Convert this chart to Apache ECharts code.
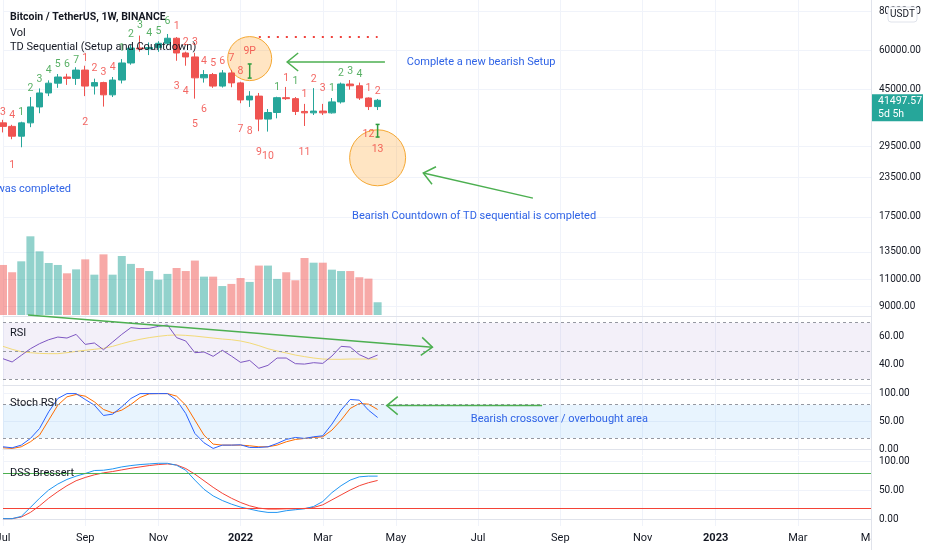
<!DOCTYPE html>
<html>
<head>
<meta charset="utf-8">
<script src="https://cdn.jsdelivr.net/npm/echarts@6.0.0/dist/echarts.min.js"></script>
<style>
  html, body { margin: 0; background: #fff; }
  #chart { width: 932px; height: 550px; }
</style>
</head>
<body>
<div id="chart"></div>
<script>
"use strict";

/* BTCUSDT weekly, Jul 2021 - Apr 2022, with Vol / RSI / Stoch RSI / DSS panes.
   Values. */

const FONT = "Roboto, 'Noto Sans', sans-serif";
const INK = "#131722";
const UP = "#26a69a", DOWN = "#ef5350";
const GREEN = "#4caf50", BLUE_TXT = "#2f63e6";
const TD_GREEN = "#2e9c3e", TD_RED = "#f0413c";
const GRID_LINE = "#f0f3fa";

// weekly categories: Jul 5 2021 onwards, the axis runs on into 2023
const FIRST_WEEK = Date.UTC(2021, 6, 5);
const WEEK_COUNT = 96;
const weeks = Array.from({ length: WEEK_COUNT },
  (_, i) => new Date(FIRST_WEEK + i * 7 * 864e5).toISOString().slice(0, 10));
const MONTHS = ["Jan","Feb","Mar","Apr","May","Jun","Jul","Aug","Sep","Oct","Nov","Dec"];

// candles (USDT)
const opens  = [35100,34200,31800,35100,39500,43800,47100,49300,48800,51900,46100,47300,43200,48200,
                54700,61100,60700,61300,63300,65700,58900,57200,49000,50200,46100,50800,47200,41600,
                42800,36100,37900,42300,42000,38200,37800,38300,37800,41000,46800,46200,42200,39600];
const closes = [34200,31800,35100,39500,43800,47100,49300,48800,51900,46100,47300,43200,48200,54700,
                61100,60700,61300,63300,65700,58900,57200,49000,50200,46100,50800,47200,41600,42800,
                36100,37900,42300,42000,38200,37800,38300,37800,41000,46800,46200,42200,39600,41497.57];
const lows   = [32700,31100,29300,34000,37700,42800,45500,46500,46500,42800,43300,39600,42500,47000,
                54000,59500,58000,59400,62300,55600,53600,42000,47300,45500,45600,45700,40600,39500,
                33000,32900,36300,41600,37200,34300,37200,37200,37600,40500,44900,41600,38600,38600];
const highs  = [35900,34600,35400,42500,45300,48100,50400,50500,53000,53600,48700,47600,49300,56300,
                62500,67000,63700,64300,67800,66300,59500,59000,51900,50800,51900,52000,47600,44400,
                43800,38900,42600,45800,42500,40400,45400,40400,42200,47300,48200,47300,42400,41900];
// volume, thousand BTC
const volume = [330,282,354,519,420,343,330,275,301,367,266,400,266,389,337,310,290,233,271,310,290,
                359,253,253,191,205,244,218,326,326,238,282,229,376,345,345,299,290,290,249,240,84];

// TD Sequential counts: [week index, text, price level]
const tdGreen = [[2,"1",37800],[3,"2",45400],[4,"3",48600],[5,"4",51900],[6,"5",54300],[7,"6",54300],
                 [8,"7",55900],[13,"1",61100],[14,"2",67800],[15,"3",72500],[16,"4",68300],[17,"5",69300],
                 [18,"6",74700],[30,"1",45800],[32,"1",47900],[36,"1",45400],[37,"2",50800],
                 [38,"3",51500],[39,"4",50400]];
const tdRed = [[0,"3",37800],[1,"4",37000],[9,"1",56600],[10,"2",52600],[11,"3",51000],[12,"4",52800],
               [19,"1",71900],[20,"2",63500],[21,"3",63500],[22,"4",55400],[23,"5",54600],[24,"6",55500],
               [25,"7",56600],[26,"8",51300],[27,"9P",59500],[31,"1",48900],[33,"1",43200],[34,"2",48600],
               [35,"3",45400],[40,"1",45400],[41,"2",44400],
               [1,"1",25700],[9,"2",35300],[19,"3",46100],[20,"4",44400],[21,"5",34800],[22,"6",38900],
               [26,"7",33500],[27,"8",32900],[28,"9",28300],[29,"10",27400],[33,"11",28300],
               [40,"12",32200],[41,"13",28900]];
const TDST_LEVEL = 66600;

// oscillators
const rsi   = [44.4,42.1,46.8,51.5,55.1,57.9,59.8,59.1,61.7,54.6,55.6,50.8,56.3,61.7,66.5,65.8,66.0,
               67.4,68.4,59.4,57.0,48.7,49.2,46.1,50.4,46.3,41.8,43.2,37.6,39.7,44.9,44.9,40.9,40.6,
               41.6,41.1,46.3,53.2,52.7,47.3,44.4,47.0];
const rsiMa = [53.2,51.1,49.4,48.7,48.2,48.0,48.0,48.7,49.6,50.4,51.1,51.8,53.2,55.1,56.8,58.2,59.4,
               60.3,61.0,61.3,61.0,60.5,59.8,59.1,58.4,57.9,57.0,55.6,53.7,51.5,49.9,48.5,47.0,45.9,
               44.9,44.2,44.0,44.0,44.2,44.2,44.2,44.2];
const stochK = [4.2,2.4,7.2,19.2,37.2,67.2,91.2,100,100,89.4,79.2,60.6,63,76.2,91.2,100,100,100,100,
                88.2,64.2,28.2,11.4,1.2,7.2,7.2,7.8,3,3,4.2,10.2,17.4,21,19.2,22.2,24,45,70.2,89.4,
                88.2,70.2,57];
const stochD = [2.4,1.2,4.2,13.2,25.2,52.2,79.2,94.2,98.4,95.4,85.2,71.4,65.4,70.2,80.4,93,99.6,100,
                100,95.4,79.2,52.2,25.2,9,7.2,7.2,7.2,6,4.2,4.2,7.2,13.2,17.4,19.2,21,22.2,34.2,52.2,
                73.2,82.2,81,71.4];
const dss    = [1.7,1.7,5.6,20.9,36.7,50.8,61,68.9,74.6,79.1,84.2,84.7,87,90.4,92.7,94.4,95.5,96.6,
                96.6,93.2,84.7,67.8,52,40.7,32.8,26.6,21.5,18.1,14.7,12.4,12.4,15.3,17,18.6,22.6,31.1,
                46.3,58.2,67.8,73.4,74.6,74.6];
const dssSig = [1.7,1.7,4.5,12.4,23.7,36.7,48,58.2,66.7,72.3,76.8,80.2,82.5,85.3,88.1,90.4,92.7,94.4,
                95.5,93.8,87.6,78,66.7,55.4,45.2,36.7,29.4,23.7,19.8,18.1,18.1,18.6,18.6,19.2,20.9,
                25.4,33.9,42.4,50.8,58.2,63.3,67.2];

// tick labels
const priceTicks = [9000, 11000, 13500, 17500, 23500, 29500, 45000, 60000, 80000];
const rsiTicks = [40, 60];
const oscTicks = [0, 50, 100];

/* ---------- layout ---------- */
const L = 3, R = 61;
const panes = [
  { top: 0,   height: 316 },   // price
  { top: 221, height: 94 },    // volume overlay
  { top: 317, height: 68 },    // RSI
  { top: 386, height: 69 },    // Stoch RSI
  { top: 456, height: 70 },    // DSS
];

const monthOf = s => +s.slice(5, 7) - 1;
const isMonthTick = i => {
  const m = monthOf(weeks[i]);
  return m % 2 === 0 && (i === 0 || m !== monthOf(weeks[i - 1]));
};
const monthTicks = weeks.map((_, i) => i).filter(isMonthTick);

// vertical gridlines at the labelled months, drawn as markLines so they sit on the label ticks
const monthLines = () => ({
  silent: true, symbol: "none", label: { show: false }, z: 0,
  lineStyle: { color: GRID_LINE, type: "solid", width: 1 },
  data: monthTicks.map(i => ({ xAxis: i })),
});

const xAxisFor = (g, labels) => ({
  type: "category", gridIndex: g, data: weeks, boundaryGap: false,
  show: g !== 1,
  axisLine: { show: true, lineStyle: { color: "#e0e3eb" } },
  axisTick: { show: false },
  axisLabel: labels ? {
    interval: 0, margin: 7, fontSize: 11, color: INK, fontFamily: FONT, hideOverlap: false,
    formatter: (v, i) => !isMonthTick(i) ? "" :
      monthOf(v) === 0 ? `{yr|${v.slice(0, 4)}}` : MONTHS[monthOf(v)],
    rich: { yr: { fontWeight: "bold", fontSize: 11, color: INK, fontFamily: FONT } },
  } : { show: false },
  splitLine: { show: false },
});

const yAxisFor = (g, min, max, ticks, extra) => Object.assign({
  type: "value", gridIndex: g, position: "right", min, max,
  axisLine: { show: true, lineStyle: { color: "#e0e3eb" } },
  axisTick: { show: false, customValues: ticks },
  axisLabel: { customValues: ticks, margin: 8, fontSize: 10, color: INK, fontFamily: FONT,
               formatter: v => Number(v).toFixed(2) },
  splitLine: { show: true, lineStyle: { color: GRID_LINE } },
}, extra || {});

const lineSeries = (g, data, color, extra) => Object.assign({
  type: "line", xAxisIndex: g, yAxisIndex: g, data, symbol: "none", silent: true,
  lineStyle: { color, width: 1 }, itemStyle: { color },
}, extra || {});

const dashed = v => ({ yAxis: v, lineStyle: { color: "#9598a1", type: [3, 3], width: 1 } });

const tdSeries = (rows, color) => ({
  type: "scatter", xAxisIndex: 0, yAxisIndex: 0, symbolSize: 1, silent: true, z: 6,
  itemStyle: { color: "rgba(0,0,0,0)" },
  data: rows.map(([i, t, p]) => ({ value: [i, p], name: t })),
  label: { show: true, position: "inside", formatter: "{b}", color, fontSize: 10.5, fontFamily: FONT },
});

// an empty carrier series per pane for the month gridlines, kept underneath everything
const gridCarrier = g => ({
  type: "line", xAxisIndex: g, yAxisIndex: g, data: [], silent: true, z: 0,
  markLine: monthLines(),
});

const option = {
  animation: false,
  backgroundColor: "#fff",
  textStyle: { fontFamily: FONT },
  title: [
    { text: "Bitcoin / TetherUS, 1W, BINANCE", left: 5, top: 7,
      textStyle: { fontSize: 10.5, fontWeight: "bold", color: INK, fontFamily: FONT } },
    ["Vol", 23], ["TD Sequential (Setup and Countdown)", 37],
    ["RSI", 323], ["Stoch RSI", 393], ["DSS Bressert", 463],
  ].map(t => Array.isArray(t) ? { text: t[0], left: 5, top: t[1],
      textStyle: { fontSize: 11, fontWeight: "normal", color: INK, fontFamily: FONT } } : t),
  grid: panes.map(p => ({ left: L, right: R, top: p.top, height: p.height,
                          containLabel: false, outerBoundsMode: "none" })),
  xAxis: [0, 1, 2, 3, 4].map(g => xAxisFor(g, g === 4)),
  yAxis: [
    yAxisFor(0, 8394, 87218, priceTicks, { type: "log", logBase: 10 }),
    { type: "value", gridIndex: 1, min: 0, max: 620, show: false },
    yAxisFor(2, 25.74, 74.05, rsiTicks, { splitLine: { show: false } }),
    yAxisFor(3, -10.6, 113.7, oscTicks),
    yAxisFor(4, -10.9, 109.1, oscTicks),
  ],
  series: [
    gridCarrier(0), gridCarrier(2), gridCarrier(3), gridCarrier(4),
    {
      type: "candlestick", xAxisIndex: 0, yAxisIndex: 0, barWidth: 7, silent: true, z: 4,
      data: opens.map((o, i) => [o, closes[i], lows[i], highs[i]]),
      itemStyle: { color: UP, color0: DOWN, borderColor: UP, borderColor0: DOWN },
      markLine: {
        silent: true, symbol: "none", label: { show: false },
        lineStyle: { color: "#f0413c", type: [2, 7], width: 2 },
        data: [[{ coord: [28, TDST_LEVEL] }, { coord: [41, TDST_LEVEL] }]],
      },
    },
    {
      type: "bar", xAxisIndex: 1, yAxisIndex: 1, barWidth: 8, silent: true, z: 1,
      data: volume.map((v, i) => ({ value: v, itemStyle: {
        color: closes[i] >= opens[i] ? "rgba(38,166,154,0.5)" : "rgba(239,83,80,0.5)" } })),
    },
    tdSeries(tdGreen, TD_GREEN),
    tdSeries(tdRed, TD_RED),

    lineSeries(2, rsiMa, "#f2da78"),
    lineSeries(2, rsi, "#7e57c2", {
      markArea: { silent: true, itemStyle: { color: "rgba(126,87,194,0.09)" },
                  data: [[{ yAxis: 30 }, { yAxis: 70 }]] },
      markLine: { silent: true, symbol: "none", label: { show: false },
                  data: [dashed(70), dashed(50), dashed(30)] },
    }),

    lineSeries(3, stochD, "#ff6d00"),
    lineSeries(3, stochK, "#2962ff", {
      markArea: { silent: true, itemStyle: { color: "rgba(33,150,243,0.1)" },
                  data: [[{ yAxis: 20 }, { yAxis: 80 }]] },
      markLine: { silent: true, symbol: "none", label: { show: false },
                  data: [dashed(80), dashed(20)] },
    }),

    lineSeries(4, dssSig, "#f44336"),
    lineSeries(4, dss, "#2196f3", {
      markLine: { silent: true, symbol: "none", label: { show: false },
                  data: [{ yAxis: 80, lineStyle: { color: GREEN, type: "solid", width: 1 } },
                         { yAxis: 20, lineStyle: { color: "#f44336", type: "solid", width: 1 } }] },
    }),
  ],
};

const chart = echarts.init(document.getElementById("chart"), null, { renderer: "canvas" });
chart.setOption(option);

/* ---------- drawn annotations, anchored to [week index, value] of a pane ---------- */
const at = (g, idx, v) => {
  const i0 = Math.floor(idx), f = idx - i0;
  const a = chart.convertToPixel({ gridIndex: g }, [i0, v]);
  const b = chart.convertToPixel({ gridIndex: g }, [i0 + 1, v]);
  return [a[0] + f * (b[0] - a[0]), a[1]];
};

const arrow = (p0, p1) => {               // head at p1
  const dx = p1[0] - p0[0], dy = p1[1] - p0[1], len = Math.hypot(dx, dy);
  const ux = dx / len, uy = dy / len, s = 11, w = 9;
  const bx = p1[0] - ux * s, by = p1[1] - uy * s;
  const st = { stroke: GREEN, lineWidth: 1.5, fill: null };
  return [
    { type: "polyline", z: 20, silent: true, shape: { points: [p0, p1] }, style: st },
    { type: "polyline", z: 20, silent: true, style: st,
      shape: { points: [[bx - uy * w, by + ux * w], p1, [bx + uy * w, by - ux * w]] } },
  ];
};

const ibar = (top, bottom) => {
  const st = { stroke: "#2e9c3e", lineWidth: 1.5 };
  const x = top[0];
  return [top, bottom].map(p => ({ type: "line", z: 20, silent: true, style: st,
      shape: { x1: x - 2, y1: p[1], x2: x + 2, y2: p[1] } }))
    .concat([{ type: "line", z: 20, silent: true, style: st,
      shape: { x1: x, y1: top[1], x2: x, y2: bottom[1] } }]);
};

const note = (p, text, align) => ({
  type: "text", z: 20, silent: true, x: p[0], y: p[1],
  style: { text, fill: BLUE_TXT, fontSize: 11, fontFamily: FONT, align: align || "left",
           verticalAlign: "middle" },
});

const ring = (p, r) => ({
  type: "circle", z: 3, silent: true, shape: { cx: p[0], cy: p[1], r },
  style: { fill: "rgba(255,160,40,0.28)", stroke: "#f5a833", lineWidth: 1 },
});

const lastY = at(0, 41, closes[41])[1];
const plotRight = at(0, WEEK_COUNT - 1, closes[0])[0];

chart.setOption({
  graphic: [
    ring(at(0, 27, 56500), 22),
    ring(at(0, 41, 27100), 28),
    ...ibar(at(0, 27, 54300), at(0, 27, 48900)),
    ...ibar(at(0, 41, 34700), at(0, 41, 31600)),
    ...arrow(at(0, 41.8, 55100), at(0, 31.1, 55100)),
    note(at(0, 44.2, 54800), "Complete a new bearish Setup"),
    ...arrow(at(0, 58.0, 20100), at(0, 46.0, 24200)),
    note(at(0, 38.2, 17600), "Bearish Countdown of TD sequential is completed"),
    note(at(0, 7.45, 21500), "was completed", "right"),
    ...arrow(at(2, 2.74, 75.5), at(2, 47.0, 52.6)),
    ...arrow(at(3, 59.0, 78.4), at(3, 42.0, 78.4)),
    note(at(3, 51.2, 54.1), "Bearish crossover / overbought area"),

    // price-scale furniture
    { type: "rect", z: 40, silent: true,
      shape: { x: plotRight + 1, y: 527, width: 932 - plotRight, height: 23 },
      style: { fill: "#fff" } },
    { type: "line", z: 41, silent: true,
      shape: { x1: plotRight + 0.5, y1: 0, x2: plotRight + 0.5, y2: 550 },
      style: { stroke: "#e0e3eb", lineWidth: 1 } },
    { type: "rect", z: 40, silent: true,
      shape: { x: plotRight + 1, y: lastY - 6, width: 51, height: 27 },
      style: { fill: UP } },
    { type: "text", z: 41, silent: true, x: plotRight + 7, y: lastY + 1,
      style: { text: closes[41].toFixed(2), fill: "#fff", fontSize: 10.5, fontFamily: FONT,
               verticalAlign: "middle" } },
    { type: "text", z: 41, silent: true, x: plotRight + 7, y: lastY + 14,
      style: { text: "5d 5h", fill: "#fff", fontSize: 10.5, fontFamily: FONT,
               verticalAlign: "middle" } },
    { type: "rect", z: 40, silent: true,
      shape: { x: 888, y: 7, width: 29, height: 15, r: 3 },
      style: { fill: "#fff", stroke: "#e0e3eb", lineWidth: 1 } },
    { type: "text", z: 41, silent: true, x: 902.5, y: 14.5,
      style: { text: "USDT", fill: INK, fontSize: 10, fontFamily: FONT,
               align: "center", verticalAlign: "middle" } },
  ],
});
</script>
</body>
</html>
